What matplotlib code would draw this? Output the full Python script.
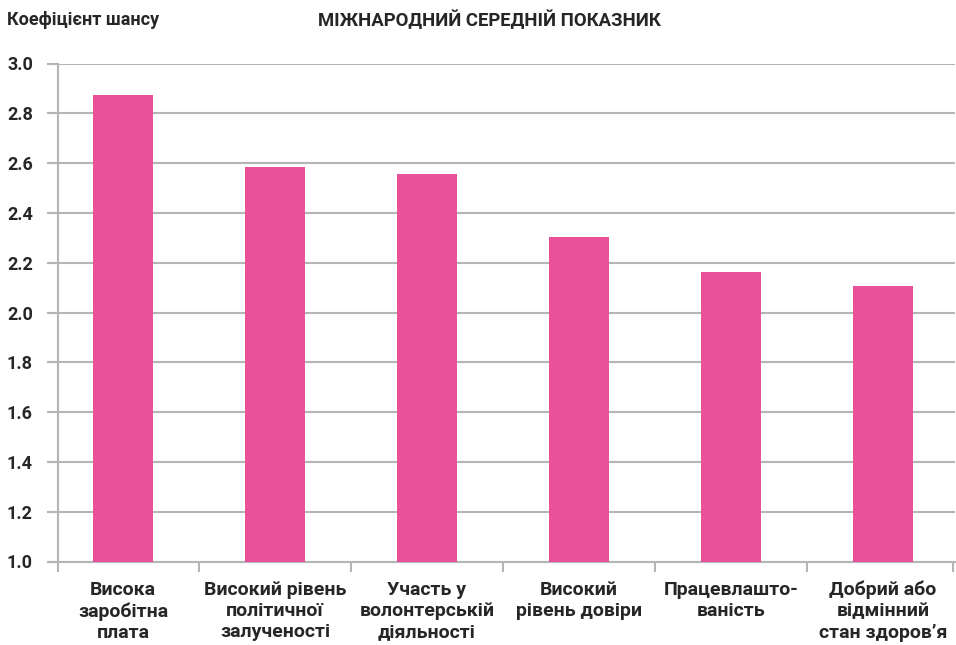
import matplotlib.pyplot as plt
import numpy as np

plt.rcParams['font.family'] = ['Roboto', 'DejaVu Sans']

# data
categories = [
    'Висока\nзаробітна\nплата',
    'Високий рівень\nполітичної\nзалученості',
    'Участь у\nволонтерській\nдіяльності',
    'Високий\nрівень довіри',
    'Працевлашто-\nваність',
    'Добрий або\nвідмінний\nстан здоров’я',
]
odds_ratio = [2.875, 2.585, 2.556, 2.303, 2.163, 2.107]
y_ticks = [1.0, 1.2, 1.4, 1.6, 1.8, 2.0, 2.2, 2.4, 2.6, 2.8, 3.0]

bar_color = '#EA519B'
grid_color = '#b5b5b5'
text_color = '#262626'

W, H = 956, 645
fig = plt.figure(figsize=(W / 100, H / 100), dpi=100)
# plot area in pixels: x 50..955, y 63.5..561.5
ax = fig.add_axes([50 / W, (H - 561.5) / H, (955 - 50) / W, (561.5 - 63.5) / H])

x = np.arange(len(categories))
ax.bar(x, odds_ratio, width=0.395, color=bar_color, zorder=3)

ax.set_ylim(1.0, 3.0)
ax.set_xlim(-0.48, 5.474)

# y axis line sits a little right of the plot edge
spine_x = -0.428
ax.spines['left'].set_position(('data', spine_x))

ax.set_yticks(y_ticks)
ax.set_yticklabels([f'{v:.1f}' for v in y_ticks], fontsize=13,
                   fontweight='bold', color=text_color)
ax.yaxis.grid(True, color=grid_color, linewidth=1.5, zorder=0)
ax.tick_params(axis='y', length=8, width=1.5, color=grid_color, pad=0)
for lbl in ax.get_yticklabels():
    lbl.set_horizontalalignment('left')
    lbl.set_transform(ax.get_yaxis_transform() +
                      plt.matplotlib.transforms.ScaledTranslation(
                          -43 / 100, 0, fig.dpi_scale_trans))

ax.set_xticks(x)
ax.set_xticklabels(categories, fontsize=14, fontweight='bold',
                   color=text_color, linespacing=1.22)
ax.tick_params(axis='x', length=0, pad=14)
ax.set_xticks([spine_x, 0.5, 1.5, 2.5, 3.5, 4.5, 5.46], minor=True)
ax.tick_params(axis='x', which='minor', length=7, width=1.5, color=grid_color)

for side in ['top', 'right']:
    ax.spines[side].set_visible(False)
for side in ['left', 'bottom']:
    ax.spines[side].set_color(grid_color)
    ax.spines[side].set_linewidth(1.5)

fig.text(7 / W, 1 - 20 / H, 'Коефіцієнт шансу', fontsize=13,
         fontweight='bold', color=text_color, va='center', ha='left')
fig.text(489 / W, 1 - 20 / H, 'МІЖНАРОДНИЙ СЕРЕДНІЙ ПОКАЗНИК',
         fontsize=13.3, fontweight='bold', color=text_color,
         va='center', ha='center')

fig.savefig('out.png', dpi=100)
